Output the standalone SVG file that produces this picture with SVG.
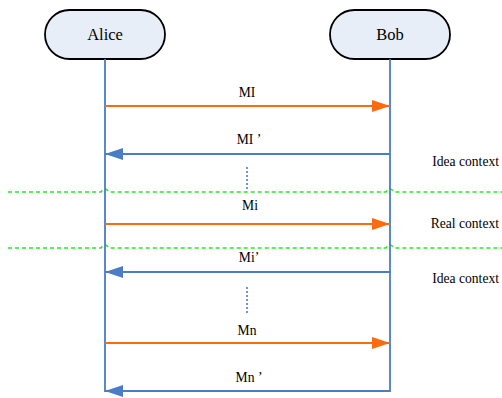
<svg xmlns="http://www.w3.org/2000/svg" width="502" height="398" viewBox="0 0 502 398">
<defs>
<style>
.actor{fill:#E8EEF8;stroke:#000;stroke-width:1.8}
.t{fill:#000;text-anchor:middle}
.life{stroke:#4A7CC7;stroke-width:1.8;fill:none}
.req{stroke:#FF6A0F;stroke-width:2;fill:none}
.resp{stroke:#4A7CC7;stroke-width:2;fill:none}
.dots{stroke:#4A7CC7;stroke-width:1.6;stroke-dasharray:2 2;fill:none}
.sep{stroke:#22EE22;stroke-width:1.6;stroke-dasharray:4 3;fill:none}
</style>
<marker id="ao" viewBox="0 0 18 12" refX="18" refY="6" markerWidth="18" markerHeight="12" markerUnits="userSpaceOnUse" orient="auto"><path d="M0,0 L18,6 L0,12 Z" fill="#FF6A0F"/></marker>
<marker id="ab" viewBox="0 0 18 12" refX="18" refY="6" markerWidth="18" markerHeight="12" markerUnits="userSpaceOnUse" orient="auto"><path d="M0,0 L18,6 L0,12 Z" fill="#4A7CC7"/></marker>
</defs>
<rect width="502" height="398" fill="#fff"/>
<g id="separators">
<path class="sep" d="M8 192 H101 Q105 186 109 192 H386 Q390 186 394 192 H502"/>
<path class="sep" d="M8 248 H101 Q105 242 109 248 H386 Q390 242 394 248 H502"/>
</g>
<g id="alice">
<rect class="actor" x="45" y="10" width="120" height="49" rx="24.5"/>
<text class="t" font-family="Liberation Serif, DejaVu Serif, serif" font-size="16.5" x="105" y="40">Alice</text>
<line class="life" x1="105" y1="59" x2="105" y2="392"/>
</g>
<g id="bob">
<rect class="actor" x="330" y="10" width="120" height="49" rx="24.5"/>
<text class="t" font-family="Liberation Serif, DejaVu Serif, serif" font-size="16.5" x="390" y="40">Bob</text>
<line class="life" x1="390" y1="59" x2="390" y2="392"/>
</g>
<g id="connectors">
<line class="req" x1="105" y1="106" x2="390" y2="106" marker-end="url(#ao)"/>
<line class="resp" x1="390" y1="154" x2="105" y2="154" marker-end="url(#ab)"/>
<line class="req" x1="105" y1="224" x2="390" y2="224" marker-end="url(#ao)"/>
<line class="resp" x1="390" y1="272" x2="105" y2="272" marker-end="url(#ab)"/>
<line class="req" x1="105" y1="343" x2="390" y2="343" marker-end="url(#ao)"/>
<line class="resp" x1="390" y1="391" x2="105" y2="391" marker-end="url(#ab)"/>
<line class="dots" x1="247" y1="167" x2="247" y2="191"/>
<line class="dots" x1="247" y1="287" x2="247" y2="313"/>
</g>
<g id="labels" font-family="Liberation Serif, DejaVu Serif, serif" font-size="13.6">
<text class="t" x="247" y="97">MI</text>
<text class="t" x="249" y="144">MI ’</text>
<text class="t" x="250" y="210">Mi</text>
<text class="t" x="249" y="262">Mi’</text>
<text class="t" x="247" y="335">Mn</text>
<text class="t" x="249" y="382">Mn ’</text>
</g>
<g id="contexts" font-family="Liberation Serif, DejaVu Serif, serif" font-size="13.6" text-anchor="end">
<text x="499" y="166">Idea context</text>
<text x="499" y="228">Real context</text>
<text x="499" y="283">Idea context</text>
</g>
</svg>
